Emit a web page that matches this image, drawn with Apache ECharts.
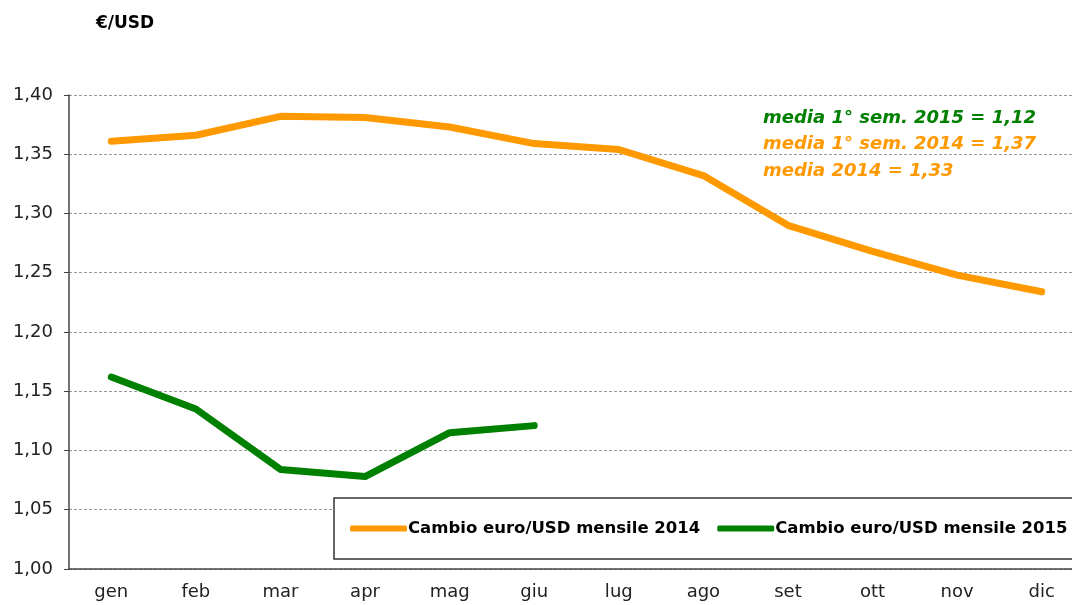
<!DOCTYPE html>
<html>
<head>
    <meta charset="utf-8">
    <title>Cambio euro/USD</title>
    <script src="https://cdn.jsdelivr.net/npm/echarts@6/dist/echarts.min.js"></script>
    <style>
        html, body { margin: 0; padding: 0; background: #fff; }
    </style>
</head>
<body>
    <div id="main" style="width: 1072px;height:605px;"></div>
    <script type="text/javascript">

// dati
var mesi = ['gen', 'feb', 'mar', 'apr', 'mag', 'giu', 'lug', 'ago', 'set', 'ott', 'nov', 'dic'];
var cambio2014 = [1.361, 1.366, 1.382, 1.381, 1.373, 1.359, 1.354, 1.332, 1.290, 1.268, 1.248, 1.234];
var cambio2015 = [1.162, 1.135, 1.084, 1.078, 1.115, 1.121];
var note = [
    { testo: 'media 1° sem. 2015 = 1,12', colore: '#008000' },
    { testo: 'media 1° sem. 2014 = 1,37', colore: '#FF9900' },
    { testo: 'media 2014 = 1,33', colore: '#FF9900' }
];

var myChart = echarts.init(document.getElementById('main'));

var virgola = function (v) { return v.toFixed(2).replace('.', ','); };

var option = {
    backgroundColor: '#ffffff',
    animation: false,
    textStyle: { fontFamily: 'DejaVu Sans, Arial, sans-serif' },
    title: {
        text: '€/USD',
        left: 91,
        top: 10,
        textStyle: { fontSize: 17, fontWeight: 'bold', color: '#000' }
    },
    grid: { left: 69, width: 1015, top: 95, bottom: 36, containLabel: false, outerBoundsMode: 'none' },
    legend: {
        left: 334,
        top: 498,
        width: 800,
        orient: 'horizontal',
        padding: [22, 16, 22, 16],
        backgroundColor: '#fff',
        borderColor: '#333',
        borderWidth: 1.5,
        itemWidth: 57,
        itemHeight: 6,
        itemGap: 17,
        icon: 'roundRect',
        textStyle: { fontSize: 16.5, fontWeight: 'bold', color: '#000', padding: [0, 0, 0, -4] },
        data: ['Cambio euro/USD mensile 2014', 'Cambio euro/USD mensile 2015']
    },
    xAxis: {
        type: 'category',
        data: mesi,
        boundaryGap: true,
        axisLine: { lineStyle: { color: '#444', width: 1.5 } },
        axisTick: { length: 5, lineStyle: { color: '#444' } },
        axisLabel: { fontSize: 18, color: '#222', margin: 14 }
    },
    yAxis: {
        type: 'value',
        min: 1.0,
        max: 1.4,
        interval: 0.05,
        axisLine: { show: true, lineStyle: { color: '#444', width: 1.5 } },
        axisTick: { show: true, length: 5, lineStyle: { color: '#444' } },
        axisLabel: { fontSize: 18, color: '#222', margin: 16, formatter: virgola },
        splitLine: { lineStyle: { color: '#999', type: [3, 2], width: 1 } }
    },
    graphic: note.map(function (n, i) {
        return {
            type: 'text',
            left: 763,
            top: 109 + i * 26.5,
            style: {
                text: n.testo,
                fill: n.colore,
                font: 'italic bold 18px DejaVu Sans, Arial, sans-serif'
            }
        };
    }),
    series: [
        {
            name: 'Cambio euro/USD mensile 2014',
            type: 'line',
            data: cambio2014,
            symbol: 'none',
            color: '#FF9900',
            lineStyle: { width: 7, cap: 'round', join: 'round' }
        },
        {
            name: 'Cambio euro/USD mensile 2015',
            type: 'line',
            data: cambio2015,
            symbol: 'none',
            color: '#008000',
            lineStyle: { width: 7, cap: 'round', join: 'round' }
        }
    ]
};

myChart.setOption(option);

    </script>
</body>
</html>
